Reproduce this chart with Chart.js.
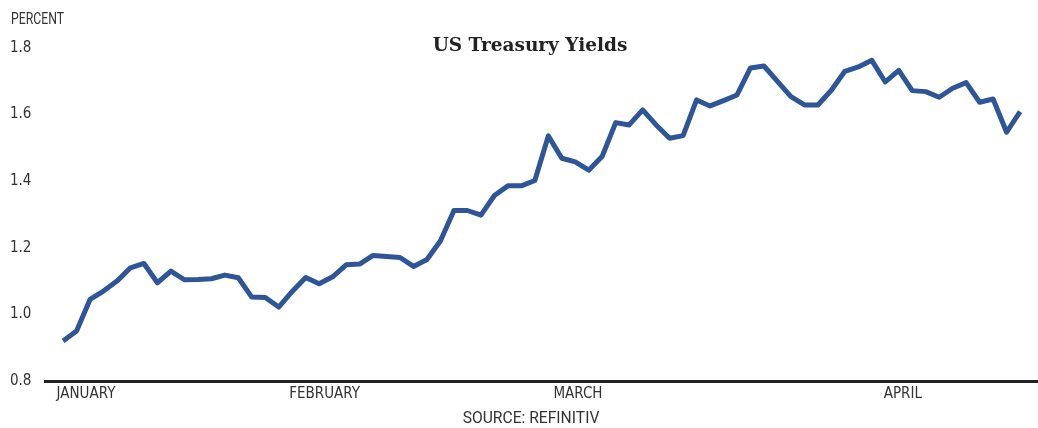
<!DOCTYPE html>
<html>
<head>
<meta charset="utf-8">
<script src="https://cdn.jsdelivr.net/npm/chart.js@4"></script>
<style>
  body { margin: 0; background: #fff; }
  #wrap { position: relative; width: 1038px; height: 428px; }
  .lbl { position: absolute; font-family: Roboto, 'DejaVu Sans Condensed', sans-serif; color: #333; white-space: nowrap; }
  #unit { left: 11px; top: 8px; font-size: 17px; transform: scaleX(0.72); transform-origin: left center; }
  #title { left: 0; width: 1060px; top: 34px; text-align: center; font-family: 'DejaVu Serif', serif; font-weight: bold; font-size: 18.5px; color: #222; }
  #source { left: 0; width: 1062px; top: 407px; text-align: center; font-size: 17px; transform: scaleX(0.92); transform-origin: 531px center; }
</style>
</head>
<body>
<div id="wrap">
  <canvas id="c" width="1038" height="428"></canvas>
  <div class="lbl" id="unit">PERCENT</div>
  <div class="lbl" id="title">US Treasury Yields</div>
  <div class="lbl" id="source">SOURCE: REFINITIV</div>
</div>
<script>
// daily yield readings, one per trading day
const yields = [
  0.92, 0.95, 1.045, 1.07, 1.10, 1.14, 1.153, 1.095, 1.13, 1.104,
  1.105, 1.107, 1.118, 1.11, 1.052, 1.051, 1.022, 1.069, 1.111, 1.092,
  1.113, 1.149, 1.151, 1.177, 1.174, 1.171, 1.144, 1.165, 1.221, 1.312,
  1.312, 1.298, 1.357, 1.386, 1.386, 1.402, 1.536, 1.469, 1.458, 1.433,
  1.475, 1.576, 1.569, 1.614, 1.569, 1.529, 1.537, 1.644, 1.626, 1.642,
  1.659, 1.740, 1.746, 1.70, 1.654, 1.629, 1.629, 1.673, 1.730, 1.743,
  1.763, 1.698, 1.733, 1.672, 1.669, 1.652, 1.679, 1.696, 1.637, 1.647,
  1.547, 1.609
];

const months = ['JANUARY', 'FEBRUARY', 'MARCH', 'APRIL'];
const monthPos = [1.7, 19.4, 38.2, 62.3];

const yTicks = [0.8, 1.0, 1.2, 1.4, 1.6, 1.8];

const tickFont = { family: "'DejaVu Sans Condensed', sans-serif", size: 15 };

new Chart(document.getElementById('c').getContext('2d'), {
    type: 'line',
    data: {
        datasets: [{
            data: yields.map((v, i) => ({ x: i, y: v })),
            borderColor: '#2d5597',
            borderWidth: 5,
            pointRadius: 0,
            tension: 0,
            borderJoinStyle: 'round',
            fill: false
        }]
    },
    options: {
        responsive: false,
        animation: false,
        layout: { padding: { top: 48, right: 0, bottom: 21, left: 10 } },
        plugins: { legend: { display: false }, tooltip: { enabled: false } },
        scales: {
            x: {
                type: 'linear',
                min: -1.34,
                max: 72.33,
                grid: { display: false, drawTicks: false },
                border: { display: true, color: '#222', width: 3 },
                afterBuildTicks: s => { s.ticks = monthPos.map(v => ({ value: v })); },
                ticks: {
                    autoSkip: false,
                    maxRotation: 0,
                    padding: 4,
                    color: '#333',
                    font: tickFont,
                    callback: v => months[monthPos.indexOf(v)]
                }
            },
            y: {
                min: yTicks[0],
                max: yTicks[yTicks.length - 1],
                grid: { display: false, drawTicks: false },
                border: { display: false },
                afterBuildTicks: s => { s.ticks = yTicks.map(v => ({ value: v })); },
                afterFit: s => { s.width = 35; },
                ticks: {
                    crossAlign: 'far',
                    padding: 0,
                    color: '#333',
                    font: tickFont,
                    callback: v => v.toFixed(1)
                }
            }
        }
    }
});
</script>
</body>
</html>
